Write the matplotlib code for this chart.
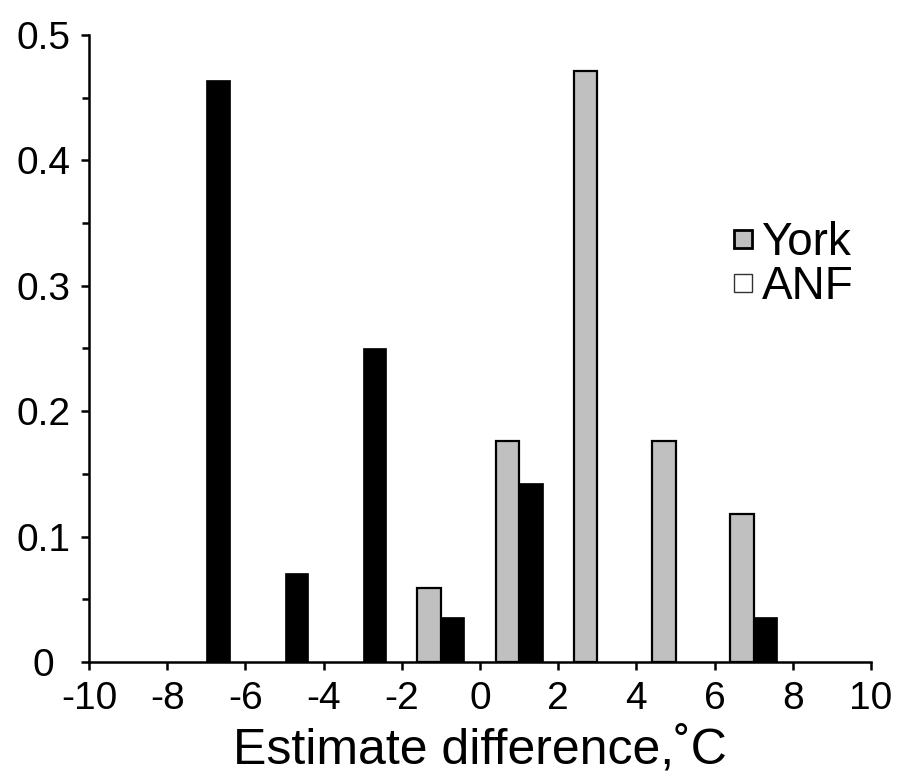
import matplotlib
matplotlib.use('Agg')
import matplotlib.pyplot as plt
from matplotlib.lines import Line2D
from matplotlib.ticker import MultipleLocator

plt.rcParams['font.family'] = ['Liberation Sans', 'DejaVu Sans']
plt.rcParams['axes.unicode_minus'] = False

# bin centres (estimate difference, deg C)
york_x = [-1, 1, 3, 5, 7]
york_vals = [0.059, 0.176, 0.471, 0.176, 0.118]
anf_x = [-7, -5, -3, -1, 1, 7]
anf_vals = [0.464, 0.071, 0.25, 0.036, 0.143, 0.036]
xticks = list(range(-10, 11, 2))
yticks = [0, 0.1, 0.2, 0.3, 0.4, 0.5]
ytick_labels = ['0', '0.1', '0.2', '0.3', '0.4', '0.5']

fig = plt.figure(figsize=(9.01, 7.81), dpi=100)
ax = fig.add_axes([0.0988, 0.1524, 0.8679, 0.8028])

w = 0.6
ax.bar([x - w / 2 for x in york_x], york_vals, width=w, color='#c0c0c0',
       edgecolor='black', linewidth=1.6)
ax.bar([x + w / 2 for x in anf_x], anf_vals, width=w, color='black',
       edgecolor='black', linewidth=0.5)

ax.set_xlim(-10, 10)
ax.set_ylim(0, 0.5)
ax.set_xticks(xticks)
ax.set_xticklabels([str(t) for t in xticks])
ax.set_yticks(yticks)
ax.set_yticklabels(ytick_labels, ha='center')
ax.yaxis.set_minor_locator(MultipleLocator(0.05))

for s in ['top', 'right']:
    ax.spines[s].set_visible(False)
for s in ['left', 'bottom']:
    ax.spines[s].set_linewidth(1.8)

ax.tick_params(axis='both', which='major', labelsize=28, width=1.8, length=6)
ax.tick_params(axis='x', which='major', pad=8)
ax.tick_params(axis='y', which='major', pad=27)
ax.tick_params(axis='y', which='minor', width=1.8, length=5)
ax.set_xlabel('Estimate difference,˚C', fontsize=36, labelpad=6)

# legend swatches: grey square for York, open square for ANF
handles = [Line2D([], [], linestyle='none', marker='s', markersize=12.5,
                  markerfacecolor='#c0c0c0', markeredgecolor='black', markeredgewidth=2),
           Line2D([], [], linestyle='none', marker='s', markersize=12.5,
                  markerfacecolor='white', markeredgecolor='#333333', markeredgewidth=1)]
ax.legend(handles, ['York', 'ANF'], loc='upper left',
          bbox_to_anchor=(0.823, 0.704), frameon=False, fontsize=33,
          handlelength=0.45, handletextpad=0.18,
          labelspacing=0.0, borderaxespad=0, borderpad=0)

fig.savefig('out.png', dpi=100)
